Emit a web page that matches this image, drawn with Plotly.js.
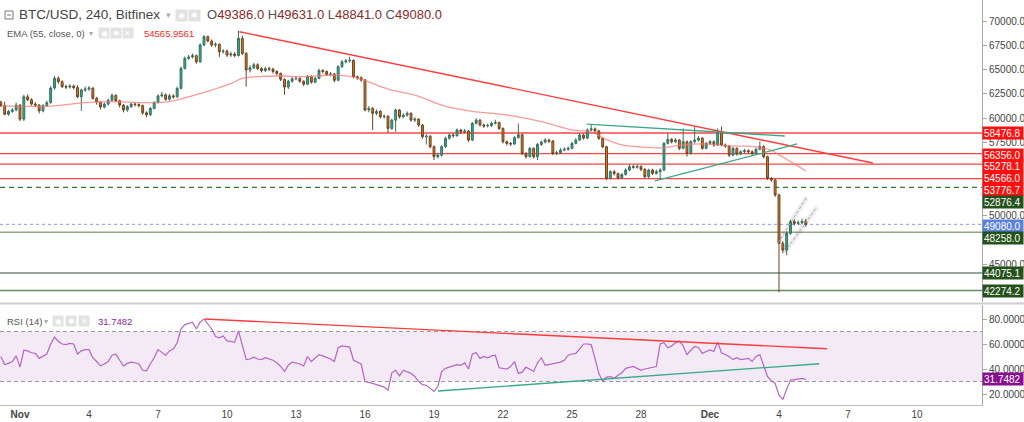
<!DOCTYPE html>
<html><head><meta charset="utf-8">
<script src="https://cdn.plot.ly/plotly-3.0.1.min.js"></script>
<style>html,body{margin:0;padding:0;background:#fff;overflow:hidden}#chart{width:1024px;height:422px}</style>
</head><body><div id="chart"></div>
<script>
// ---------------- DATA ----------------
const firstCandle = '2021-10-31T04:00:00Z';   // 4h candles
const firstOpen = 61650;
const closeP = [
61300,60400,60700,60850,61350,59900,62200,61900,61450,61350,
60750,61300,61600,63100,64100,63750,63250,63200,63300,63150,
62200,62900,63000,63100,62050,61650,61150,61450,61850,62350,
61800,61350,60850,61200,61450,61400,61300,60550,60350,61000,
61600,62300,62400,61950,62300,62200,63070,65130,66160,66300,
66430,65800,67530,68390,67940,67530,67600,66840,66900,66500,
66600,66450,68200,66670,64960,65200,65500,65100,64900,65100,
65050,64800,64600,64000,63200,63800,64050,64100,63800,63500,
64300,63700,64100,64900,64800,64500,64550,63900,65300,65800,
65900,65950,64270,64170,63930,60840,61000,60500,60700,60150,
60200,58950,59800,60840,60150,60320,60500,59800,59900,59300,
58100,58150,57070,56040,56200,57070,57930,58270,58200,58780,
58600,58680,57750,59470,59800,59300,59200,59250,59470,59550,
58950,57580,57400,57350,58000,58300,56380,56050,56900,56040,
57300,57550,57750,57650,56380,56450,56720,56800,56900,57410,
57750,58270,57950,58780,58900,58700,57930,57070,53810,54500,
54300,53850,54200,54670,55010,54950,55030,54740,53980,54670,
54330,54500,54670,57410,57820,57580,57750,56900,57580,56380,
57580,57750,57950,56900,57410,57580,57240,58610,57240,57140,
56200,56900,56310,56550,56660,56550,56380,56800,57100,56040,
53810,53650,52100,47120,46440,48150,49350,49180,49250,49386,
49080];
const highP = [
61800,61700,60850,61050,61600,61450,62400,62450,62050,61650,
61450,61450,61800,63300,64350,64300,63900,63450,63500,63450,
63400,63050,63250,63300,63200,62200,61750,61600,62000,62550,
62450,61900,61450,61350,61600,61600,61550,61400,60700,61150,
61750,62450,62700,62550,62500,62450,63250,65300,66350,66500,
66650,66550,67700,68550,68500,68100,67800,67700,67100,67050,
66850,66800,69000,68500,66800,65450,65700,65650,65250,65300,
65300,65200,64950,64700,64100,63950,64250,64350,64200,63900,
64450,64400,64250,65100,65050,64900,64750,64650,65450,66000,
66100,66330,66050,64400,64300,64050,61250,61150,60900,60850,
60400,60300,59950,61000,60950,60500,60700,60600,60100,60000,
59400,58350,58250,57200,56450,57250,58100,58450,58450,58950,
58900,58900,58800,59600,60000,59900,59450,59450,59650,59850,
59650,59050,57700,57550,58150,59450,58400,56500,57050,57000,
57450,57700,57950,57900,57750,56650,56900,57000,57100,57550,
57950,58450,58400,58950,59400,59050,58800,58000,57150,54650,
54700,54400,54350,54850,55250,55200,55250,55150,54850,54800,
54800,54700,54850,57550,58440,57950,57950,57850,58950,57700,
57750,59100,58150,58050,57550,57750,57700,58950,59130,57400,
57250,57050,57000,56700,56850,56800,56700,56950,57600,57200,
56150,53950,53750,52250,47350,48350,49550,49600,49500,49650,
49631];
const lowP = [
61150,60300,60250,60550,60700,59700,59700,61750,61300,61150,
60500,60600,61150,61500,62950,63550,63100,63000,63050,62950,
62050,60750,62700,62800,61900,61400,60900,61000,61300,61700,
61650,61100,60600,60650,61050,61200,61100,60350,60100,60250,
60900,61500,62150,61800,61800,62000,62100,62950,65000,66000,
66150,65600,65700,67400,67800,67350,67300,66300,66650,66300,
66300,66250,66350,66500,63250,64700,65050,64950,64700,64750,
64850,64600,64400,63800,62400,63000,63650,63900,63650,63300,
63400,63550,63600,64000,64600,64350,64300,63700,63800,65150,
65650,65700,64100,63950,63750,60700,60600,58780,60300,59950,
59950,58500,58800,58600,59950,60000,60150,59650,59600,59100,
57900,57300,56900,55700,55850,56050,56950,57800,58000,58100,
58400,58450,57550,57650,59350,59150,59000,59050,59100,59350,
58800,57400,57200,57150,57250,57900,56200,55850,55950,55850,
55700,57150,57400,57450,56200,56200,56300,56600,56650,56800,
57300,57650,57800,57850,58650,58500,57750,56900,53650,53700,
54100,53700,53750,54100,54550,54800,54800,54550,53800,53850,
54150,54200,53640,54550,57300,57400,57450,56700,56800,56040,
56250,57400,57600,56750,56800,57250,57050,57150,57100,56950,
56000,56100,56150,56200,56400,56350,56200,56250,56700,55850,
53650,53450,51900,42100,46100,45900,48000,48950,49000,49100,
48841];
const rsi14 = [
50,43.5,44.5,46,50.5,41.5,55,54.5,53,52.5,
48.5,50.5,52,60,65.5,62,60,59.5,60.5,60,
52,54.5,55.5,55.5,49,46,42.5,44,46,51,
52,47,42.5,44.5,45.5,45,44,39,38.5,44,
49,55.5,53,51,54.5,56,61,72,75.5,76.5,
77.5,72,77.5,80,76,72,66,65,66.5,62.5,
62,61.5,70.5,58,47.5,48,49.5,48,47.5,49,
48,47,45,42,38,43,45.5,45,44,42.5,
50,46,48.5,51.5,50.5,49.5,48,46,57,58.5,
58,57.5,47,45.5,44,30,29.5,28.5,27.5,26.5,
25.5,23,37,39,34.5,39,38,36.5,34,30,
27.5,27,24.5,22,26,38,40.5,41.5,43,43.5,
43,45,40,52,53,48.5,50,49,50.5,51,
41,40.5,40,42,46,36.5,37.5,41.5,39.5,38,
45,49,43,43.5,44.5,44.5,45.5,47,51,52,
52.5,56,60,60,59.5,48.5,36.5,30,33.5,34,
32.5,35,37,40.5,41,42,40.5,39,40,40.5,
41.5,42,60,61,57,58.5,61,62.4,58.5,51.5,
55,58,57,52.5,54,55.2,54,61.5,53,51.5,
50,47.5,49,47.5,48,48.5,46,50,51.5,43.5,
34,30.5,28.5,19,15.7,24,31,31.5,32,32.5,
31.7482];
// EMA(55) read at candle indices
const emaIdx = [0,13,22,30,37,44,49,55,60,63,67,73,79,88,93,101,109,115,123,132,141,149,154,158,162,167,172,177,183,190,197,201,204,207,210];
const emaVal = [61260,61250,61600,61700,61600,61700,62200,62900,63550,64100,64270,64340,64270,64440,64150,63000,62250,61350,60700,60330,59640,58800,58600,57800,57250,57040,56950,57200,57350,57150,57050,56700,56000,55300,54566];

const lastOHLC = {o:'49386.0', h:'49631.0', l:'48841.0', c:'49080.0'};
const emaLastText = '54565.9561';
const rsiLastText = '31.7482';

// price levels drawn on the chart
const redLevels   = [58476.8, 56356.0, 55278.1, 53776.7];
const dashLevel   = 52876.4;
const lastPrice   = 49080.0;
const greenLevels = [48258.0, 44075.1, 42274.2];
const emaLast     = 54566.0;
const rsiLast     = 31.7482;

// drawn trend lines (two end points each)
const trendRedX  = ['2021-11-10 13:00','2021-12-08 02:00'], trendRedY  = [68900, 55390];
const triTopX    = ['2021-11-25 15:30','2021-12-04 06:00'], triTopY    = [59400, 58170];
const triBotX    = ['2021-11-28 14:30','2021-12-04 19:00'], triBotY    = [53540, 57350];
const chan1X     = ['2021-12-03 23:00','2021-12-05 05:00'], chan1Y     = [47160, 51890];
const chan2X     = ['2021-12-04 06:00','2021-12-05 15:30'], chan2Y     = [46240, 50860];
const rsiRedX    = ['2021-11-09 01:00','2021-12-06 02:00'], rsiRedY    = [80, 56.2];
const rsiTealX   = ['2021-11-19 04:00','2021-12-05 18:00'], rsiTealY   = [22.4, 44.2];

const xTickVals = ['2021-11-01','2021-11-04','2021-11-07','2021-11-10','2021-11-13','2021-11-16','2021-11-19','2021-11-22','2021-11-25','2021-11-28','2021-12-01','2021-12-04','2021-12-07','2021-12-10'];
const xTickText = ['<b>Nov</b>','4','7','10','13','16','19','22','25','28','<b>Dec</b>','4','7','10'];
const priceTicks = [70000,67500,65000,62500,60000,57500,50000,45000];
const rsiTicks = [20,40,60,80];

// ---------------- BUILD ----------------
const t0 = Date.parse(firstCandle);
const fmt = ms => new Date(ms).toISOString().slice(0,16).replace('T',' ');
const times = closeP.map((_, i) => fmt(t0 + i * 4 * 3600e3));
const openP = closeP.map((c, i) => i === 0 ? firstOpen : closeP[i-1]);
const emaX = emaIdx.map(i => times[i]);

const W = 982, H = 405;
const px = v => v / W, py = v => 1 - v / H;
const FONT = 'Liberation Sans, Arial, sans-serif';

const traces = [
  {type:'scatter', mode:'lines', x:emaX, y:emaVal, line:{color:'rgba(250,120,120,0.75)', width:1.3, shape:'spline', smoothing:0.9}, hoverinfo:'skip', xaxis:'x', yaxis:'y'},
  {type:'candlestick', x:times, open:openP, high:highP, low:lowP, close:closeP,
   increasing:{line:{color:'#3b6e60', width:1}, fillcolor:'#22b596'},
   decreasing:{line:{color:'#6e431f', width:1}, fillcolor:'#d77a22'},
   whiskerwidth:0, xaxis:'x', yaxis:'y', hoverinfo:'skip'},
  {type:'scatter', mode:'lines', x:trendRedX, y:trendRedY, line:{color:'#ff3b3b', width:1.4}, xaxis:'x', yaxis:'y'},
  {type:'scatter', mode:'lines', x:triTopX, y:triTopY, line:{color:'#3aa88a', width:1.3}, xaxis:'x', yaxis:'y'},
  {type:'scatter', mode:'lines', x:triBotX, y:triBotY, line:{color:'#3aa88a', width:1.3}, xaxis:'x', yaxis:'y'},
  {type:'scatter', mode:'lines', x:chan1X, y:chan1Y, line:{color:'rgba(0,0,0,0.07)', width:5}, xaxis:'x', yaxis:'y'},
  {type:'scatter', mode:'lines', x:chan2X, y:chan2Y, line:{color:'rgba(0,0,0,0.07)', width:5}, xaxis:'x', yaxis:'y'},
  {type:'scatter', mode:'lines', x:chan1X, y:chan1Y, line:{color:'#a8a8a8', width:1, dash:'3px,2px'}, xaxis:'x', yaxis:'y'},
  {type:'scatter', mode:'lines', x:chan2X, y:chan2Y, line:{color:'#a8a8a8', width:1, dash:'3px,2px'}, xaxis:'x', yaxis:'y'},
  {type:'scatter', mode:'lines', x:times, y:rsi14, line:{color:'#b565c4', width:1.2}, xaxis:'x', yaxis:'y2'},
  {type:'scatter', mode:'lines', x:rsiRedX, y:rsiRedY, line:{color:'#ff3b3b', width:1.4}, xaxis:'x', yaxis:'y2'},
  {type:'scatter', mode:'lines', x:rsiTealX, y:rsiTealY, line:{color:'#3aa88a', width:1.3}, xaxis:'x', yaxis:'y2'}
];

const shapes = [];
const hline = (y, color, width, dash, yref) => shapes.push({type:'line', xref:'paper', x0:0, x1:1, yref:yref||'y', y0:y, y1:y, line:{color, width, dash:dash||'solid'}, layer:'below'});
// RSI band
shapes.push({type:'rect', xref:'paper', x0:0, x1:1, yref:'y2', y0:30, y1:70, fillcolor:'rgba(150,60,170,0.11)', line:{width:0}, layer:'below'});
hline(70, '#9a9a9a', 1, '4px,3px', 'y2');
hline(30, '#9a9a9a', 1, '4px,3px', 'y2');
redLevels.forEach(v => hline(v, '#ff4545', 1.3));
hline(dashLevel, '#2f7d2f', 1.2, '5px,4px');
hline(lastPrice, '#7f9bea', 1, 'dot');
hline(greenLevels[0], '#93a383', 1.5);
hline(greenLevels[1], '#33503a', 1);
hline(greenLevels[2], '#6f8c62', 1.5);
// pane separator
shapes.push({type:'line', xref:'paper', yref:'paper', x0:0, x1:1024/W, y0:py(303.5), y1:py(303.5), line:{color:'#cfcfcf', width:2}});
// header icons
const box = (x0,x1,y0,y1,fill,line) => shapes.push({type:'rect', xref:'paper', yref:'paper', x0:px(x0), x1:px(x1), y0:py(y1), y1:py(y0), fillcolor:fill, line:{color:line||fill, width:1}});
box(5,13,11,19,'#fff','#777');
shapes.push({type:'line', xref:'paper', yref:'paper', x0:px(7), x1:px(11), y0:py(15), y1:py(15), line:{color:'#777', width:1}});
box(176,187,10,21,'#e2e2e2'); box(189,200,10,21,'#e2e2e2');
box(99,109,28,38,'#e2e2e2'); box(111,121,28,38,'#e2e2e2'); box(123,133,28,38,'#e2e2e2');
box(53,63,316,326,'#e2e2e2'); box(66,76,316,326,'#e2e2e2'); box(79,89,316,326,'#e2e2e2');

const ann = [];
const txt = (x, y, text, size, color, extra) => ann.push(Object.assign({xref:'paper', yref:'paper', x:px(x), y:py(y), xanchor:'left', yanchor:'middle', text, showarrow:false, font:{family:FONT, size, color}}, extra||{}));
txt(17, 15, 'BTC/USD, 240, Bitfinex', 13.5, '#444');
txt(164, 15, '▾', 9, '#aaa');
const v = s => '<span style="color:#8b2a2a">' + s + '</span>';
txt(205, 15, 'O' + v(lastOHLC.o) + ' H' + v(lastOHLC.h) + ' L' + v(lastOHLC.l) + ' C' + v(lastOHLC.c), 13, '#555');
txt(5, 33, 'EMA (55, close, 0)', 9.5, '#555');
txt(87, 33, '▾', 8, '#aaa');
txt(142, 33, emaLastText, 9.5, '#ff1f1f');
txt(5, 321, 'RSI (14)', 9.5, '#555');
txt(42, 321, '▾', 8, '#aaa');
txt(96, 321, rsiLastText, 9.5, '#8e1f9c');
// glyphs in icon boxes
const glyph = (x, y, g) => ann.push({xref:'paper', yref:'paper', x:px(x), y:py(y), xanchor:'center', yanchor:'middle', text:g, showarrow:false, font:{family:'DejaVu Sans', size:8, color:'#fff'}});
glyph(181.5,15.5,'◉'); glyph(194.5,15.5,'✱');
glyph(104,33,'◉'); glyph(116,33,'✱'); glyph(128,33,'✕');
glyph(58,321,'◉'); glyph(71,321,'✱'); glyph(84,321,'✕');

// right-axis value labels
const tag = (y, text, bg, shift, yref) => ann.push({xref:'paper', x:1, xanchor:'left', yref:yref||'y', y, yanchor:'middle', yshift:shift, text, showarrow:false, bgcolor:bg, borderpad:1, width:38, height:10, align:'left', font:{family:FONT, size:10, color:'#fff'}});
tag(redLevels[0], redLevels[0].toFixed(1), '#ff1010', 0);
tag(redLevels[1], redLevels[1].toFixed(1), '#ff1010', -1);
tag(redLevels[2], redLevels[2].toFixed(1), '#ff1010', -2);
tag(emaLast, emaLast.toFixed(1), '#ff1010', -7);
tag(redLevels[3], redLevels[3].toFixed(1), '#ff1010', -11);
tag(dashLevel, dashLevel.toFixed(1), '#24511c', -15);
tag(lastPrice, lastPrice.toFixed(1), '#5b80dd', -2);
tag(greenLevels[0], greenLevels[0].toFixed(1), '#24511c', -6);
tag(greenLevels[1], greenLevels[1].toFixed(1), '#24511c', 0);
tag(greenLevels[2], greenLevels[2].toFixed(1), '#24511c', 0);
tag(rsiLast, rsiLast.toFixed(4), '#86108f', 0, 'y2');

const layout = {
  width:1024, height:422, margin:{l:0, r:1024-W, t:0, b:422-H, pad:0},
  paper_bgcolor:'#fff', plot_bgcolor:'#fff', showlegend:false, hovermode:false,
  font:{family:FONT, size:10, color:'#444'},
  xaxis:{type:'date', range:['2021-10-31 03:08','2021-12-12 19:50'], anchor:'y2', tickvals:xTickVals, ticktext:xTickText,
         showgrid:false, zeroline:false, showline:true, linecolor:'#bdbdbd', linewidth:1, ticks:'', tickfont:{size:10, color:'#444'},
         rangeslider:{visible:false}, fixedrange:true, automargin:false},
  yaxis:{domain:[1-302/H, 1], range:[41091, 72160], side:'right', anchor:'x', tickvals:priceTicks, tickformat:'.1f',
         showgrid:false, zeroline:false, showline:true, linecolor:'#a8a8a8', ticks:'outside', ticklen:4, tickcolor:'#a8a8a8',
         tickfont:{size:10, color:'#444'}, automargin:false, fixedrange:true},
  yaxis2:{domain:[0, 100/H], range:[11.2, 91.2], side:'right', anchor:'x', tickvals:rsiTicks, tickformat:'.4f',
         showgrid:false, zeroline:false, showline:true, linecolor:'#a8a8a8', ticks:'outside', ticklen:4, tickcolor:'#a8a8a8',
         tickfont:{size:10, color:'#444'}, automargin:false, fixedrange:true},
  shapes, annotations:ann
};
Plotly.newPlot('chart', traces, layout, {staticPlot:true, displayModeBar:false});
</script></body></html>
